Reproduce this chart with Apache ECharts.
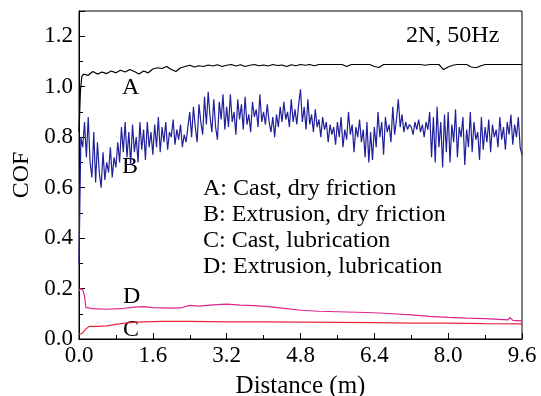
<!DOCTYPE html>
<html>
<head>
<meta charset="utf-8">
<title>COF vs Distance</title>
<script src="https://cdn.jsdelivr.net/npm/echarts@6/dist/echarts.min.js"></script>
<style>
  html, body { margin: 0; padding: 0; background: #fff; }
  #chart { width: 541px; height: 396px; }
</style>
</head>
<body>
<div id="chart"></div>
<script>
// A: Cast, dry friction (distance m, COF)
const aX = [0, 0.03, 0.06,
  0.1, 0.2, 0.3, 0.4, 0.5, 0.6, 0.7, 0.8, 0.9, 1.0,
  1.1, 1.2, 1.3, 1.4, 1.5, 1.6, 1.7, 1.8, 1.9, 2.0,
  2.1, 2.2, 2.3, 2.4, 2.5, 2.6, 2.7, 2.8, 2.9, 3.0,
  3.1, 3.2, 3.3, 3.4, 3.5, 3.6, 3.7, 3.8, 3.9, 4.0,
  4.1, 4.2, 4.3, 4.4, 4.5, 4.6, 4.7, 4.8, 4.9, 5.0,
  5.1, 5.2, 5.3, 5.4, 5.5, 5.6, 5.7, 5.8, 5.9, 6.0,
  6.1, 6.2, 6.3, 6.4, 6.5, 6.6, 6.7, 6.8, 6.9, 7.0,
  7.1, 7.2, 7.3, 7.4, 7.5, 7.6, 7.7, 7.8, 7.9, 8.0,
  8.1, 8.2, 8.3, 8.4, 8.5, 8.6, 8.7, 8.8, 8.9, 9.0,
  9.1, 9.2, 9.3, 9.4, 9.5, 9.6]
const aY = [0.82, 0.98, 1.04,
  1.05, 1.045, 1.06, 1.05, 1.058, 1.052, 1.062, 1.055, 1.065, 1.058,
  1.068, 1.06, 1.05, 1.062, 1.055, 1.07, 1.075, 1.072, 1.08, 1.068,
  1.06, 1.075, 1.08, 1.085, 1.078, 1.083, 1.08, 1.086, 1.082, 1.087,
  1.08, 1.085, 1.088, 1.082, 1.087, 1.08, 1.085, 1.088, 1.083, 1.086,
  1.082, 1.088, 1.084, 1.086, 1.08, 1.087, 1.083, 1.088, 1.085, 1.088,
  1.083, 1.088, 1.088, 1.088, 1.088, 1.088, 1.088, 1.08, 1.088, 1.088,
  1.088, 1.088, 1.088, 1.08, 1.076, 1.088, 1.088, 1.088, 1.088, 1.088,
  1.088, 1.088, 1.088, 1.088, 1.085, 1.088, 1.088, 1.088, 1.068, 1.078,
  1.085, 1.088, 1.088, 1.088, 1.078, 1.075, 1.082, 1.088, 1.088, 1.088,
  1.088, 1.088, 1.088, 1.088, 1.088, 1.088]

// B: Extrusion, dry friction, sampled every 0.04 m
const bStep = 0.04
const bY = [
  0.30, 0.80, 0.76, 0.86, 0.72, 0.88, 0.70, 0.64, 0.82, 0.62, 0.78, 0.66, 0.60, 0.74, 0.63, 0.70, 0.66, 0.76, 0.64, 0.72,
  0.68, 0.78, 0.70, 0.84, 0.74, 0.86, 0.72, 0.82, 0.69, 0.85, 0.74, 0.80, 0.70, 0.86, 0.75, 0.83, 0.71, 0.86, 0.76, 0.82,
  0.73, 0.85, 0.76, 0.88, 0.74, 0.84, 0.78, 0.86, 0.75, 0.82, 0.80, 0.87, 0.77, 0.83, 0.79, 0.85, 0.76, 0.81, 0.78, 0.84,
  0.90, 0.80, 0.92, 0.84, 0.78, 0.93, 0.86, 0.81, 0.96, 0.85, 0.98, 0.88, 0.82, 0.95, 0.84, 0.79, 0.94, 0.87, 0.97, 0.83,
  0.92, 0.84, 0.97, 0.86, 0.90, 0.81, 0.95, 0.87, 0.93, 0.83, 0.96, 0.85, 0.89, 0.82, 0.94, 0.88, 0.91, 0.84, 0.97, 0.86,
  0.90, 0.85, 0.93, 0.86, 0.82, 0.88, 0.80, 0.89, 0.84, 0.92, 0.86, 0.94, 0.87, 0.90, 0.84, 0.95, 0.86, 0.91, 0.85, 0.93,
  0.99, 0.86, 0.92, 0.83, 0.95, 0.85, 0.89, 0.82, 0.91, 0.84, 0.87, 0.80, 0.88, 0.83, 0.86, 0.78, 0.85, 0.81, 0.84, 0.77,
  0.86, 0.80, 0.88, 0.76, 0.83, 0.79, 0.90, 0.81, 0.85, 0.74, 0.84, 0.80, 0.87, 0.78, 0.83, 0.72, 0.86, 0.70, 0.82, 0.71,
  0.84, 0.76, 0.90, 0.80, 0.86, 0.73, 0.88, 0.82, 0.85, 0.78, 0.92, 0.81, 0.87, 0.95, 0.84, 0.89, 0.82, 0.86, 0.83, 0.85,
  0.84, 0.81, 0.86, 0.83, 0.87, 0.82, 0.85, 0.80, 0.86, 0.83, 0.90, 0.72, 0.88, 0.70, 0.92, 0.76, 0.86, 0.68, 0.89, 0.74,
  0.90, 0.70, 0.85, 0.78, 0.91, 0.72, 0.84, 0.80, 0.88, 0.69, 0.83, 0.76, 0.90, 0.74, 0.86, 0.79, 0.82, 0.71, 0.88, 0.75,
  0.84, 0.78, 0.87, 0.74, 0.85, 0.80, 0.83, 0.76, 0.88, 0.79, 0.84, 0.75, 0.86, 0.81, 0.89, 0.77, 0.85, 0.80, 0.88, 0.76,
  0.73
]

// C: Cast, lubrication
const cX = [0, 0.08, 0.15, 0.22, 0.4, 0.6, 0.8, 1.0, 1.2, 1.4, 1.8, 2.4, 3.2, 4.0, 4.8, 5.6, 6.4, 7.2, 8.0, 8.8, 9.6]
const cY = [0.018, 0.024, 0.04, 0.05, 0.05, 0.052, 0.058, 0.063, 0.066, 0.068, 0.07, 0.07, 0.068, 0.068, 0.067, 0.066, 0.065, 0.063, 0.063, 0.061, 0.06]

// D: Extrusion, lubrication
const dX = [0, 0.03, 0.08, 0.12, 0.15, 0.3, 0.6, 0.9, 1.2, 1.4, 1.6, 2.0, 2.2, 2.4, 2.6, 2.9, 3.2, 3.5, 3.8, 4.1, 4.4, 4.8,
  5.2, 5.6, 6.0, 6.4, 6.8, 7.2, 7.6, 8.0, 8.4, 8.8, 9.1, 9.3, 9.34, 9.4, 9.6]
const dY = [0.19, 0.2, 0.195, 0.17, 0.125, 0.12, 0.118, 0.12, 0.126, 0.128, 0.124, 0.122, 0.123, 0.133, 0.13, 0.135, 0.138, 0.134, 0.132, 0.128, 0.122, 0.114,
  0.11, 0.108, 0.106, 0.104, 0.1, 0.096, 0.09, 0.086, 0.083, 0.081, 0.078, 0.076, 0.086, 0.074, 0.072]

const xTicks = [0, 1.6, 3.2, 4.8, 6.4, 8.0, 9.6]
const legendLines = ['A: Cast, dry friction', 'B: Extrusion, dry friction', 'C: Cast, lubrication', 'D: Extrusion, lubrication']

// Times 风格的衬线字体
const font = '"Liberation Serif", "Times New Roman", serif'

const pairs = (xs, ys) => xs.map((x, i) => [x, ys[i]])
const bData = bY.map((v, i) => [+(i * bStep).toFixed(2), v])

const lineSeries = (name, data, color) => ({
  name,
  type: 'line',
  data,
  showSymbol: false,
  symbol: 'none',
  silent: true,
  animation: false,
  lineStyle: { color, width: 1.2 }
})

const myChart = echarts.init(document.getElementById('chart'))

const option = {
  backgroundColor: '#fff',
  animation: false,
  textStyle: { fontFamily: font },
  grid: {
    left: 79,
    right: 19,
    top: 11,
    bottom: 57,
    outerBoundsMode: 'none', // 网格位置固定，不随标签收缩
    show: true,
    borderColor: '#000',
    borderWidth: 1
  },
  xAxis: {
    type: 'value',
    min: 0,
    max: 9.6,
    interval: 1.6,
    name: 'Distance (m)',
    nameLocation: 'middle',
    nameGap: 35,
    nameTextStyle: { fontFamily: font, fontSize: 25, color: '#000' },
    axisLine: { lineStyle: { color: '#000', width: 1 } },
    axisTick: { inside: true, length: 6, lineStyle: { color: '#000' } },
    minorTick: { show: true, splitNumber: 2, length: 4, lineStyle: { color: '#000' } },
    splitLine: { show: false },
    axisLabel: {
      fontFamily: font,
      fontSize: 23,
      color: '#000',
      margin: 5,
      formatter: (v) => (xTicks.indexOf(+v.toFixed(1)) >= 0 ? v.toFixed(1) : '')
    }
  },
  yAxis: {
    type: 'value',
    min: 0,
    max: 1.3,
    interval: 0.2,
    name: 'COF',
    nameLocation: 'middle',
    nameGap: 43,
    nameTextStyle: { fontFamily: font, fontSize: 24, color: '#000' },
    axisLine: { lineStyle: { color: '#000', width: 1 } },
    axisTick: { inside: true, length: 6, lineStyle: { color: '#000' } },
    minorTick: { show: true, splitNumber: 2, length: 4, lineStyle: { color: '#000' } },
    splitLine: { show: false },
    axisLabel: {
      fontFamily: font,
      fontSize: 23,
      color: '#000',
      margin: 6,
      showMaxLabel: false,
      formatter: (v) => (v > 1.25 ? '' : v.toFixed(1))
    }
  },
  series: [
    lineSeries('D', pairs(dX, dY), '#e0248c'),
    lineSeries('C', pairs(cX, cY), '#e8283c'),
    lineSeries('B', bData, '#20209a'),
    lineSeries('A', pairs(aX, aY), '#000')
  ],
  graphic: [
    { type: 'text', left: 406, top: 24, style: { text: '2N, 50Hz', font: '24px ' + font, fill: '#000' } },
    { type: 'text', left: 122, top: 76, style: { text: 'A', font: '24px ' + font, fill: '#000' } },
    { type: 'text', left: 122, top: 155, style: { text: 'B', font: '24px ' + font, fill: '#000' } },
    { type: 'text', left: 123, top: 285, style: { text: 'D', font: '24px ' + font, fill: '#000' } },
    { type: 'text', left: 123, top: 318, style: { text: 'C', font: '24px ' + font, fill: '#000' } },
    {
      type: 'group',
      left: 203,
      top: 177,
      children: legendLines.map((t, i) => ({
        type: 'text',
        x: 0,
        y: i * 26,
        style: { text: t, font: '24px ' + font, fill: '#000' }
      }))
    }
  ]
}

myChart.setOption(option)
</script>
</body>
</html>
